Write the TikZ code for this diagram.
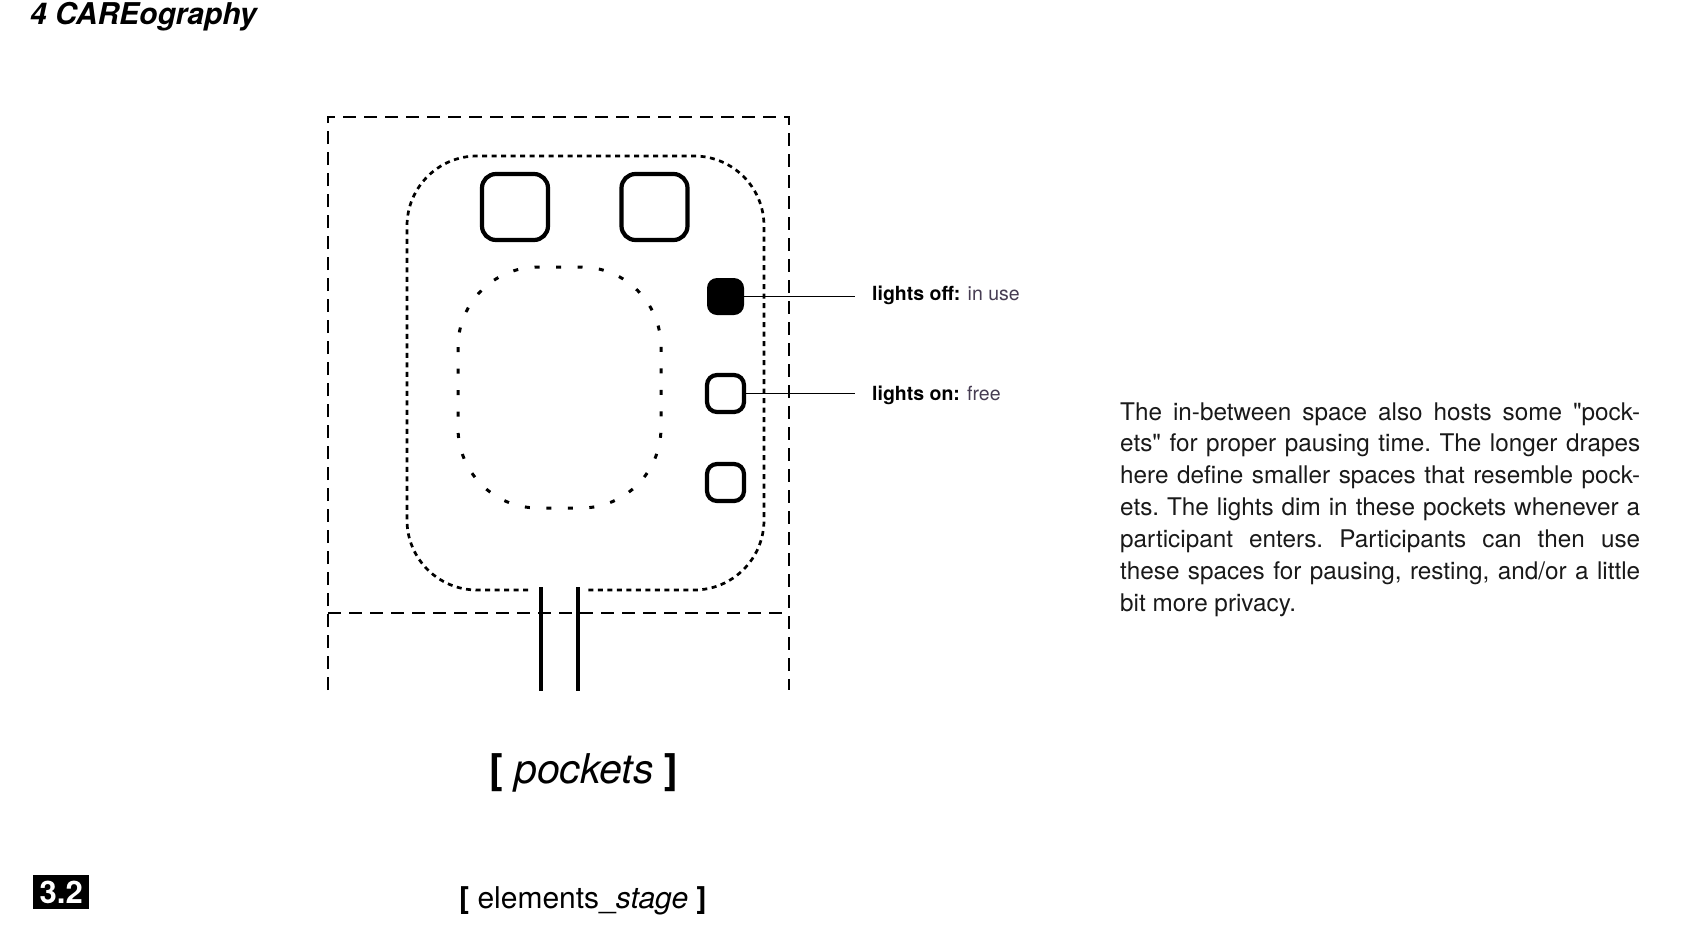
\documentclass[tikz,border=0pt]{standalone}
\usepackage{fontspec}
\setmainfont{TeX Gyre Heros}[Ligatures=TeXOff]
\setsansfont{TeX Gyre Heros}[Ligatures=TeXOff]
\definecolor{softink}{RGB}{70,60,82}
\definecolor{bodyink}{RGB}{25,25,25}
\tikzset{
  frameline/.style={line width=1.3pt, dash pattern=on 13pt off 8pt},
  stageline/.style={line width=2.7pt, dash pattern=on 5pt off 4.5pt},
  pocketline/.style={line width=3pt, dash pattern=on 5pt off 16.5pt},
  bigbox/.style={draw, line width=4.2pt, rounded corners=14pt, minimum size=66pt, inner sep=0pt},
  lightbox/.style={draw, line width=4.2pt, rounded corners=10pt, minimum size=37pt, inner sep=0pt},
  lightoff/.style={fill=black, rounded corners=10pt, minimum size=37pt, inner sep=0pt},
  leader/.style={line width=1pt},
  entry/.style={line width=4.5pt},
  lab/.style={anchor=base west, inner sep=0pt, font=\fontsize{19.5pt}{22pt}\selectfont},
}
\begin{document}
\begin{tikzpicture}[x=1pt,y=-1pt]
\useasboundingbox (0,0) rectangle (1684,946);
% title
\node[anchor=base west, inner sep=0pt, font=\fontsize{30pt}{33pt}\selectfont\bfseries\itshape] (title) at (30,24) {4 CAREography};
% outer dashed frame
\draw[frameline] (328,690) -- (328,117) -- (789,117) -- (789,690);
\draw[frameline] (328,613) -- (789,613);
% stage dotted outline with gap
\draw[stageline, rounded corners=70pt] (528,590) -- (407,590) -- (407,156) -- (764,156) -- (764,590) -- (588,590);
% inner pocket
\draw[pocketline, rounded corners=80pt] (458,267) rectangle (661,508);
% top boxes
\node[bigbox] (boxa) at (515,207) {};
\node[bigbox] (boxb) at (654.5,207) {};
% lights
\node[lightoff] (off) at (725.5,296.5) {};
\node[lightbox] (on) at (725.5,393.5) {};
\node[lightbox] (on2) at (725.5,482.5) {};
% entrance
\draw[entry] (541,587) -- (541,691);
\draw[entry] (578,587) -- (578,691);
% labels
\node[lab] (offlab) at (872,300) {\textbf{lights off:} \textcolor{softink}{in use}};
\node[lab] (onlab) at (872,400) {\textbf{lights on:} \textcolor{softink}{free}};
\coordinate (offend) at (855,296.5);
\coordinate (onend) at (855,393.5);
\draw[leader] (off.east) -- (offend);
\draw[leader] (on.east) -- (onend);
% paragraph
\node[anchor=base west, inner sep=0pt, text=bodyink] (para) at (1120,420) {\parbox[t]{520pt}{\frenchspacing\fontsize{24.3pt}{31.9pt}\selectfont
\makebox[520pt][s]{The in-between space also hosts some "pock-}\\
\makebox[520pt][s]{ets" for proper pausing time. The longer drapes}\\
\makebox[520pt][s]{here define smaller spaces that resemble pock-}\\
\makebox[520pt][s]{ets. The lights dim in these pockets whenever a}\\
\makebox[520pt][s]{participant enters. Participants can then use}\\
\makebox[520pt][s]{these spaces for pausing, resting, and/or a little}\\
bit more privacy.}};
% captions
\node[anchor=base west, inner sep=0pt, font=\fontsize{41pt}{46pt}\selectfont] (cap) at (489,783) {\textbf{[} \textit{pockets} \textbf{]}};
\node[fill=black, minimum width=56pt, minimum height=34pt, inner sep=0pt, anchor=north west] (num) at (33,875) {};
\node[text=white, font=\fontsize{31pt}{34pt}\selectfont\bfseries, inner sep=0pt] (numtxt) at (num.center) {3.2};
\node[anchor=base west, inner sep=0pt, font=\fontsize{30pt}{34pt}\selectfont] (sect) at (459,908) {\textbf{[} elements\_\textit{stage} \textbf{]}};
\end{tikzpicture}
\end{document}
